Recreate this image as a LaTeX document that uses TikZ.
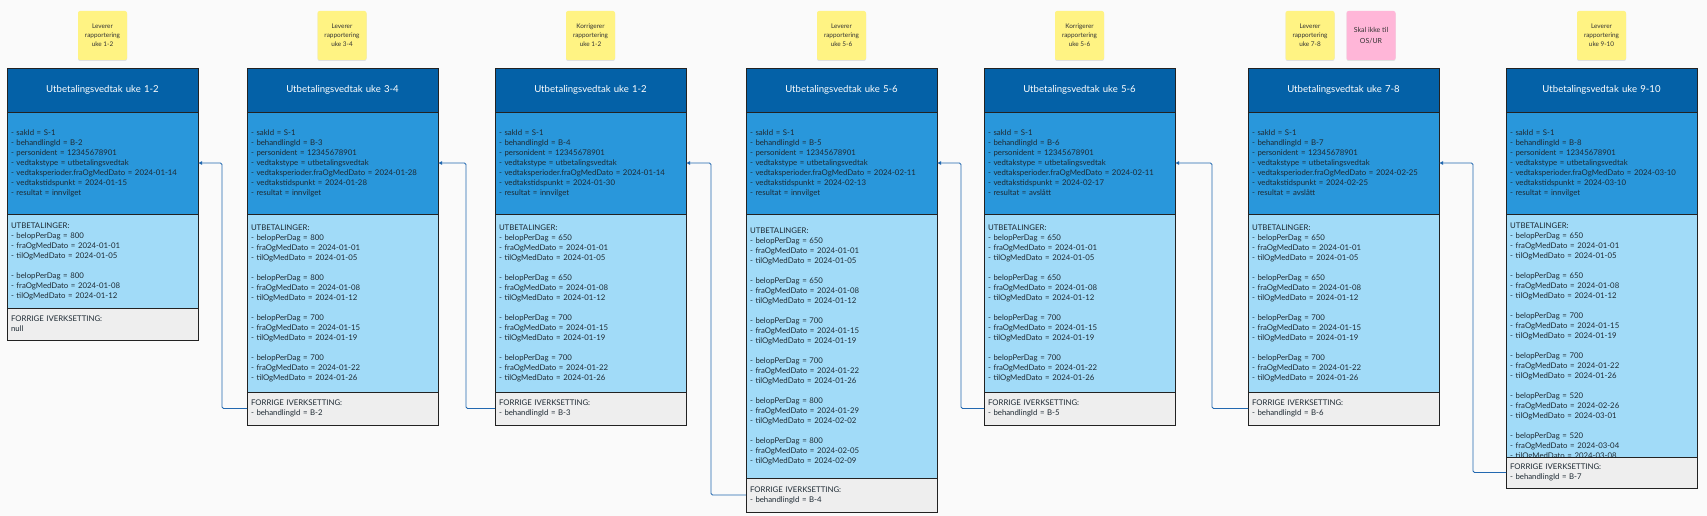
\documentclass[tikz,border=0pt]{standalone}
\usepackage{fontspec}
\setmainfont{Lato}
\usetikzlibrary{arrows.meta,calc,shadows}
\definecolor{bgc}{HTML}{FAFAFA}
\definecolor{hdrc}{HTML}{0461A7}
\definecolor{infoc}{HTML}{2997DB}
\definecolor{utbc}{HTML}{A1DBF8}
\definecolor{prevc}{HTML}{EEEEEE}
\definecolor{secline}{HTML}{222222}
\definecolor{txtc}{HTML}{1E2A33}
\definecolor{connc}{HTML}{2268B0}
\definecolor{yellowc}{HTML}{FFF383}
\definecolor{pinkc}{HTML}{FFB6D8}
\definecolor{notetxt}{HTML}{333333}
\tikzset{
  sec/.style={draw=secline, line width=0.8pt, anchor=north west, minimum width=191pt,
    outer sep=0pt, inner xsep=4pt, inner ysep=0pt, text width=183pt, align=left,
    font=\fontsize{7.8}{10}\selectfont, text=txtc},
  hdrbox/.style={sec, fill=hdrc, text=white, align=center, font=\fontsize{9.6}{12}\selectfont},
  infobox/.style={sec, fill=infoc},
  utbbox/.style={sec, fill=utbc},
  prevbox/.style={sec, fill=prevc},
  utbtext/.style={anchor=north west, inner sep=0pt, text width=183pt, align=left,
    font=\fontsize{7.8}{10}\selectfont, text=txtc},
  note/.style={rounded corners=2pt, minimum width=49pt, minimum height=49pt, inner sep=1pt,
    align=center, font=\fontsize{6.4}{9}\selectfont, text=notetxt,
    drop shadow={shadow xshift=0pt, shadow yshift=-1pt, opacity=0.10, fill=black}},
  yellownote/.style={note, fill=yellowc},
  pinknote/.style={note, fill=pinkc, font=\fontsize{7}{10.5}\selectfont},
  conn/.style={draw=connc, line width=0.9pt, rounded corners=1.5pt, -{Latex[length=4pt,width=4pt]}}
}
\newcommand{\perline}[3]{- belopPerDag = #1\\- fraOgMedDato = #2\\- tilOgMedDato = #3}
\newcommand{\infotext}[4]{- sakId = S-1\\- behandlingId = #1\\- personident = 12345678901\\- vedtakstype = utbetalingsvedtak\\- vedtaksperioder.fraOgMedDato = #2\\- vedtakstidspunkt = #3\\- resultat = #4}
\newcommand{\basefour}[1]{UTBETALINGER:\\\perline{#1}{2024-01-01}{2024-01-05}\\[10pt]\perline{#1}{2024-01-08}{2024-01-12}\\[10pt]\perline{700}{2024-01-15}{2024-01-19}\\[10pt]\perline{700}{2024-01-22}{2024-01-26}}
\newcommand{\vedtakbox}[8]{%
  \pgfmathsetmacro{\myuH}{#3-214}%
  \pgfmathsetmacro{\mypH}{#4-#3}%
  \node[hdrbox, minimum height=44pt] (#1h) at (#2,68) {#5};
  \node[infobox, minimum height=102pt] (#1i) at (#2,112) {#6};
  \node[utbbox, minimum height=\myuH pt] (#1u) at (#2,214) {#7};
  \node[prevbox, minimum height=\mypH pt] (#1p) at (#2,#3) {#8};
}
\begin{document}
\begin{tikzpicture}[x=1pt,y=-1pt]
\fill[bgc] (0,0) rectangle (1707,516);
\useasboundingbox (0,0) rectangle (1707,516);

% sticky notes
\node[yellownote] (n1) at (102.5,35.5) {Leverer\\rapportering\\uke 1-2};
\node[yellownote] (n2) at (342,35.5) {Leverer\\rapportering\\uke 3-4};
\node[yellownote] (n3) at (590.5,35.5) {Korrigerer\\rapportering\\uke 1-2};
\node[yellownote] (n4) at (841.5,35.5) {Leverer\\rapportering\\uke 5-6};
\node[yellownote] (n5) at (1079.5,35.5) {Korrigerer\\rapportering\\uke 5-6};
\node[yellownote] (n6) at (1310,35.5) {Leverer\\rapportering\\uke 7-8};
\node[pinknote] (n6b) at (1371,35.5) {Skal ikke til\\OS/UR};
\node[yellownote] (n7) at (1601.5,35.5) {Leverer\\rapportering\\uke 9-10};

% boxes
\vedtakbox{b1}{7}{308}{340}{Utbetalingsvedtak uke 1-2}
  {\infotext{B-2}{2024-01-14}{2024-01-15}{innvilget}}
  {UTBETALINGER:\\\perline{800}{2024-01-01}{2024-01-05}\\[10pt]\perline{800}{2024-01-08}{2024-01-12}}
  {FORRIGE IVERKSETTING:\\null}
\vedtakbox{b2}{247}{392}{425}{Utbetalingsvedtak uke 3-4}
  {\infotext{B-3}{2024-01-28}{2024-01-28}{innvilget}}
  {\basefour{800}}
  {FORRIGE IVERKSETTING:\\- behandlingId = B-2}
\vedtakbox{b3}{495}{392}{425}{Utbetalingsvedtak uke 1-2}
  {\infotext{B-4}{2024-01-14}{2024-01-30}{innvilget}}
  {\basefour{650}}
  {FORRIGE IVERKSETTING:\\- behandlingId = B-3}
\vedtakbox{b4}{746}{478}{512}{Utbetalingsvedtak uke 5-6}
  {\infotext{B-5}{2024-02-11}{2024-02-13}{innvilget}}
  {\basefour{650}\\[10pt]\perline{800}{2024-01-29}{2024-02-02}\\[10pt]\perline{800}{2024-02-05}{2024-02-09}}
  {FORRIGE IVERKSETTING:\\- behandlingId = B-4}
\vedtakbox{b5}{984}{392}{425}{Utbetalingsvedtak uke 5-6}
  {\infotext{B-6}{2024-02-11}{2024-02-17}{avslått}}
  {\basefour{650}}
  {FORRIGE IVERKSETTING:\\- behandlingId = B-5}
\vedtakbox{b6}{1248}{392}{425}{Utbetalingsvedtak uke 7-8}
  {\infotext{B-7}{2024-02-25}{2024-02-25}{avslått}}
  {\basefour{650}}
  {FORRIGE IVERKSETTING:\\- behandlingId = B-6}
\vedtakbox{b7}{1506}{457}{488}{Utbetalingsvedtak uke 9-10}
  {\infotext{B-8}{2024-03-10}{2024-03-10}{innvilget}}
  {}
  {FORRIGE IVERKSETTING:\\- behandlingId = B-7}
\begin{scope}
  \clip ($(b7u.north west)+(1,1)$) rectangle ($(b7u.south east)+(-1,-1)$);
  \node[utbtext] (b7t) at ($(b7u.north west)+(4,9)$)
    {\basefour{650}\\[10pt]\perline{520}{2024-02-26}{2024-03-01}\\[10pt]\perline{520}{2024-03-04}{2024-03-08}};
\end{scope}

% connectors
\draw[conn] (b2p.west) -- ([xshift=-25pt]b2p.west) |- (b1i.east);
\draw[conn] (b3p.west) -- ([xshift=-29pt]b3p.west) |- (b2i.east);
\draw[conn] (b4p.west) -- ([xshift=-35pt]b4p.west) |- (b3i.east);
\draw[conn] (b5p.west) -- ([xshift=-23pt]b5p.west) |- (b4i.east);
\draw[conn] (b6p.west) -- ([xshift=-36pt]b6p.west) |- (b5i.east);
\draw[conn] (b7p.west) -- ([xshift=-33pt]b7p.west) |- (b6i.east);
\end{tikzpicture}
\end{document}
